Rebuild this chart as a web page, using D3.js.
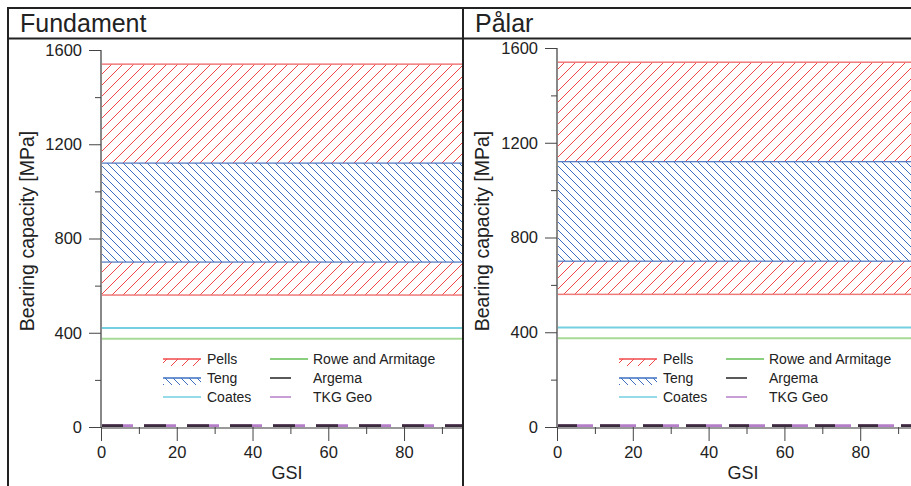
<!DOCTYPE html>
<html><head><meta charset="utf-8">
<script src="https://cdn.jsdelivr.net/npm/d3@7"></script>
<style>
html,body{margin:0;padding:0;background:#fff;}
svg{display:block;font-family:"Liberation Sans",Arial,sans-serif;}
</style></head>
<body>
<svg id="chart" width="911" height="486"></svg>
<script>
// ---- data ----
const panelTitles = ["Fundament", "Pålar"];
const bandNames = ["Pells", "Teng"];
const bandLow = [560, 700];
const bandHigh = [1540, 1120];
const lineNames = ["Coates", "Rowe and Armitage", "Argema", "TKG Geo"];
const lineValues = [420, 375, 5, 5];
const yMajorTicks = [0, 400, 800, 1200, 1600];
const yMinorTicks = [200, 600, 1000, 1400];
const xMajorTicks = [0, 20, 40, 60, 80];
const xMinorTicks = [10, 30, 50, 70, 90];
const xLabel = "GSI";
const yLabel = "Bearing capacity [MPa]";

// ---- layout ----
const panels = [
  {x0:101, x1:462, top:50, bottom:427, xmax:95.3, left:8, right:463, dashA:"22,21", dashT:"32,11"},
  {x0:557, x1:911, top:48, bottom:427, xmax:93.4, left:463, right:911, dashA:"20,23", dashT:"36,7"}
];
const svg = d3.select("#chart");
const defs = svg.append("defs");
const bandColors = ["#f04848", "#3d6fc0"];
const bandBorder = ["#f07a7a", "#4a72c0"];
const lineColors = ["#74cfe0", "#a6da96", "#3c2b3c", "#b47fc8"];
const legendLineColors = ["#74cfe0", "#62bf52", "#222", "#b47fc8"];

// hatch patterns
const pells = defs.append("pattern").attr("id","hatchPells").attr("patternUnits","userSpaceOnUse")
  .attr("width",11).attr("height",11);
pells.append("path").attr("d","M-1,12 L12,-1 M-3,3 L3,-3 M8,14 L14,8")
  .attr("stroke",bandColors[0]).attr("stroke-width",1).attr("fill","none");
const teng = defs.append("pattern").attr("id","hatchTeng").attr("patternUnits","userSpaceOnUse")
  .attr("width",8).attr("height",8);
teng.append("rect").attr("width",8).attr("height",8).attr("fill","#fff");
teng.append("path").attr("d","M-1,-1 L9,9 M-3,5 L3,11 M5,-3 L11,3")
  .attr("stroke",bandColors[1]).attr("stroke-width",1).attr("fill","none");
const fills = ["url(#hatchPells)", "url(#hatchTeng)"];

panels.forEach((p, i) => {
  const g = svg.append("g");
  const x = d3.scaleLinear().domain([0, p.xmax]).range([p.x0, p.x1]);
  const y = d3.scaleLinear().domain([0, 1600]).range([p.bottom, p.top]);

  const clipId = "clip" + i;
  defs.append("clipPath").attr("id", clipId).append("rect")
    .attr("x", p.x0 - 2).attr("y", 0).attr("width", p.x1 - p.x0 + 2).attr("height", 486);
  const plot = g.append("g").attr("clip-path", `url(#${clipId})`);

  // bands
  bandNames.forEach((n, k) => {
    plot.append("rect")
      .attr("x", x(0)).attr("width", x(p.xmax) - x(0) + 4)
      .attr("y", y(bandHigh[k])).attr("height", y(bandLow[k]) - y(bandHigh[k]))
      .attr("fill", fills[k]).attr("stroke", bandBorder[k]).attr("stroke-width", k === 0 ? 1.5 : 1.2);
  });

  // lines (TKG Geo drawn beneath Argema)
  [0,1,3,2].forEach(k => {
    const ln = plot.append("line")
      .attr("x1", x(0)).attr("x2", x(p.xmax) + 2)
      .attr("y1", y(lineValues[k])).attr("y2", y(lineValues[k]))
      .attr("stroke", lineColors[k]).attr("stroke-width", k >= 2 ? 3 : 2);
    if (k === 2) ln.attr("stroke-dasharray", p.dashA);
    if (k === 3) ln.attr("stroke-dasharray", p.dashT);
  });

  // axes lines (gray)
  g.append("line").attr("x1", x(0)).attr("x2", x(0)).attr("y1", y(1600)).attr("y2", y(0))
    .attr("stroke", "#888").attr("stroke-width", 2);
  g.append("line").attr("x1", x(0)).attr("x2", p.x1).attr("y1", y(0)+1).attr("y2", y(0)+1)
    .attr("stroke", "#999").attr("stroke-width", 2);

  // y axis ticks
  const yAx = g.append("g").attr("transform", `translate(${x(0)},0)`)
    .call(d3.axisLeft(y).tickValues(yMajorTicks).tickSize(12).tickPadding(7).tickFormat(d3.format("d")));
  yAx.select(".domain").remove();
  yAx.selectAll("line").attr("stroke", "#444");
  yAx.selectAll("text").attr("font-size", 16.5).attr("fill", "#222")
    .attr("font-family", '"Liberation Sans",Arial,sans-serif');
  const yMin = g.append("g").attr("transform", `translate(${x(0)},0)`)
    .call(d3.axisLeft(y).tickValues(yMinorTicks).tickSize(6).tickFormat(""));
  yMin.select(".domain").remove();
  yMin.selectAll("line").attr("stroke", "#444");

  // x axis ticks
  const xAx = g.append("g").attr("transform", `translate(0,${y(0)})`)
    .call(d3.axisBottom(x).tickValues(xMajorTicks).tickSize(14).tickPadding(5).tickFormat(d3.format("d")));
  xAx.select(".domain").remove();
  xAx.selectAll("line").attr("stroke", "#444");
  xAx.selectAll("text").attr("font-size", 16.5).attr("fill", "#222")
    .attr("font-family", '"Liberation Sans",Arial,sans-serif');
  const xMin = g.append("g").attr("transform", `translate(0,${y(0)})`)
    .call(d3.axisBottom(x).tickValues(xMinorTicks).tickSize(7).tickFormat(""));
  xMin.select(".domain").remove();
  xMin.selectAll("line").attr("stroke", "#444");

  // axis labels
  g.append("text").attr("x", x(0) + 186).attr("y", 479).attr("text-anchor", "middle")
    .attr("font-size", 18).attr("fill", "#222").text(xLabel);
  g.append("text").attr("transform", `translate(${p.left + 26},${231}) rotate(-90)`)
    .attr("text-anchor", "middle").attr("font-size", 19.5).attr("fill", "#222").text(yLabel);

  // title
  g.append("text").attr("x", p.left + 12).attr("y", 32).attr("font-size", 25).attr("fill", "#222")
    .text(panelTitles[i]);

  // legend
  const lg = g.append("g").attr("transform", `translate(${x(0) + 62},0)`);
  const rows = [359, 378, 397];
  const legItems = [
    {type:"band", k:0, col:0, row:0},
    {type:"band", k:1, col:0, row:1},
    {type:"line", k:0, col:0, row:2},
    {type:"line", k:1, col:1, row:0},
    {type:"line", k:2, col:1, row:1},
    {type:"line", k:3, col:1, row:2}
  ];
  legItems.forEach(it => {
    const cx = it.col === 0 ? 0 : 107;
    const ry = rows[it.row];
    const name = it.type === "band" ? bandNames[it.k] : lineNames[it.k];
    if (it.type === "band") {
      lg.append("rect").attr("x", cx).attr("y", ry).attr("width", 38).attr("height", 7)
        .attr("fill", fills[it.k]);
      lg.append("line").attr("x1", cx).attr("x2", cx + 38).attr("y1", ry).attr("y2", ry)
        .attr("stroke", bandColors[it.k]).attr("stroke-width", 1.5);
    } else {
      const w = it.k >= 2 ? 21 : 38;
      lg.append("line").attr("x1", cx).attr("x2", cx + w).attr("y1", ry).attr("y2", ry)
        .attr("stroke", legendLineColors[it.k]).attr("stroke-width", 1.5);
    }
    const tx = it.col === 0 ? 44 : 150;
    lg.append("text").attr("x", tx).attr("y", ry + 5)
      .attr("font-size", 14).attr("fill", "#222").text(name);
  });
});

// frame
const frame = svg.append("g").attr("stroke", "#222").attr("stroke-width", 2);
frame.append("line").attr("x1", 7).attr("x2", 911).attr("y1", 8).attr("y2", 8);
frame.append("line").attr("x1", 7).attr("x2", 911).attr("y1", 38.5).attr("y2", 38.5);
frame.append("line").attr("x1", 8).attr("x2", 8).attr("y1", 7).attr("y2", 486);
frame.append("line").attr("x1", 463).attr("x2", 463).attr("y1", 7).attr("y2", 486);
</script>
</body></html>
